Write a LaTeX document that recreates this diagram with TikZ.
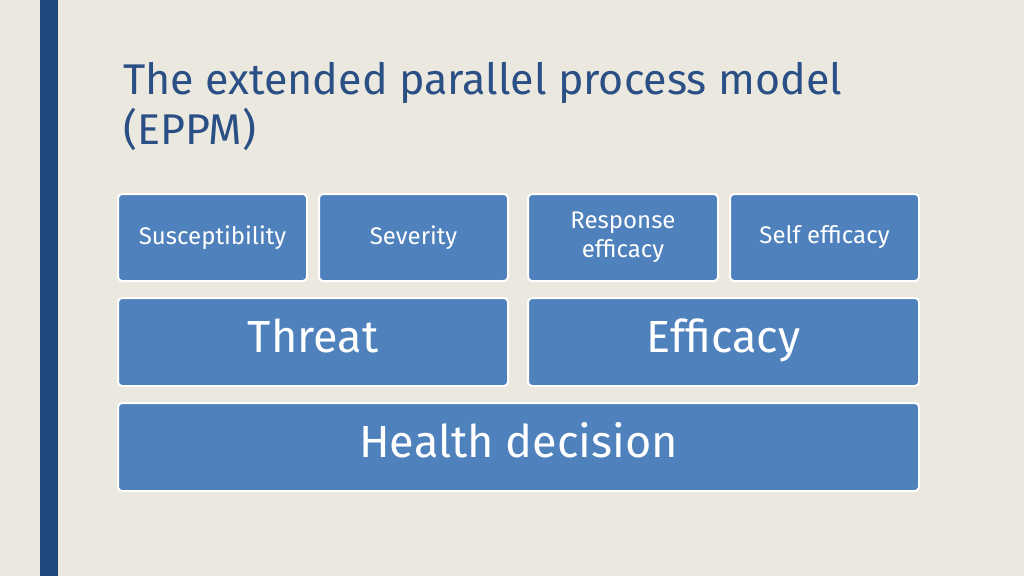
\documentclass[tikz,border=0pt]{standalone}
\usepackage{fontspec}
\setmainfont{Fira Sans}
\definecolor{bgc}{HTML}{EBE8DF}
\definecolor{bar}{HTML}{1F497D}
\definecolor{ttl}{HTML}{2A4F85}
\definecolor{boxc}{HTML}{4F81BD}
\tikzset{bx/.style={draw=white,line width=2pt,fill=boxc,rounded corners=4pt},
  sm/.style={midway,text=white,align=center,font=\fontsize{24}{28}\selectfont},
  lg/.style={midway,text=white,align=center,font=\fontsize{45}{50}\selectfont}}
\begin{document}
\begin{tikzpicture}[x=1pt,y=-1pt]
\fill[bgc] (0,0) rectangle (1024,576);
\useasboundingbox (0,0) rectangle (1024,576);
\fill[bar] (40,0) rectangle (58,576);
\node[anchor=north west,text=ttl,font=\fontsize{43}{50}\selectfont,align=left,inner sep=0] (t) at (123,62) {The extended parallel process model\\(EPPM)};
\draw[bx] (118,194) rectangle (307,281) node[sm] (a) {Susceptibility};
\draw[bx] (319,194) rectangle (508,281) node[sm] (b) {Severity};
\draw[bx] (528,194) rectangle (718,281) node[sm,font=\fontsize{24}{29}\selectfont] (c) {Response\\efficacy};
\draw[bx] (730,194) rectangle (919,281) node[sm] (d) {Self efficacy};
\draw[bx] (118,298) rectangle (508,386) node[lg] (e) {Threat\strut};
\draw[bx] (528,298) rectangle (919,386) node[lg] (f) {Efficacy\strut};
\draw[bx] (118,403) rectangle (919,491) node[lg] (g) {Health decision\strut};
\end{tikzpicture}
\end{document}
